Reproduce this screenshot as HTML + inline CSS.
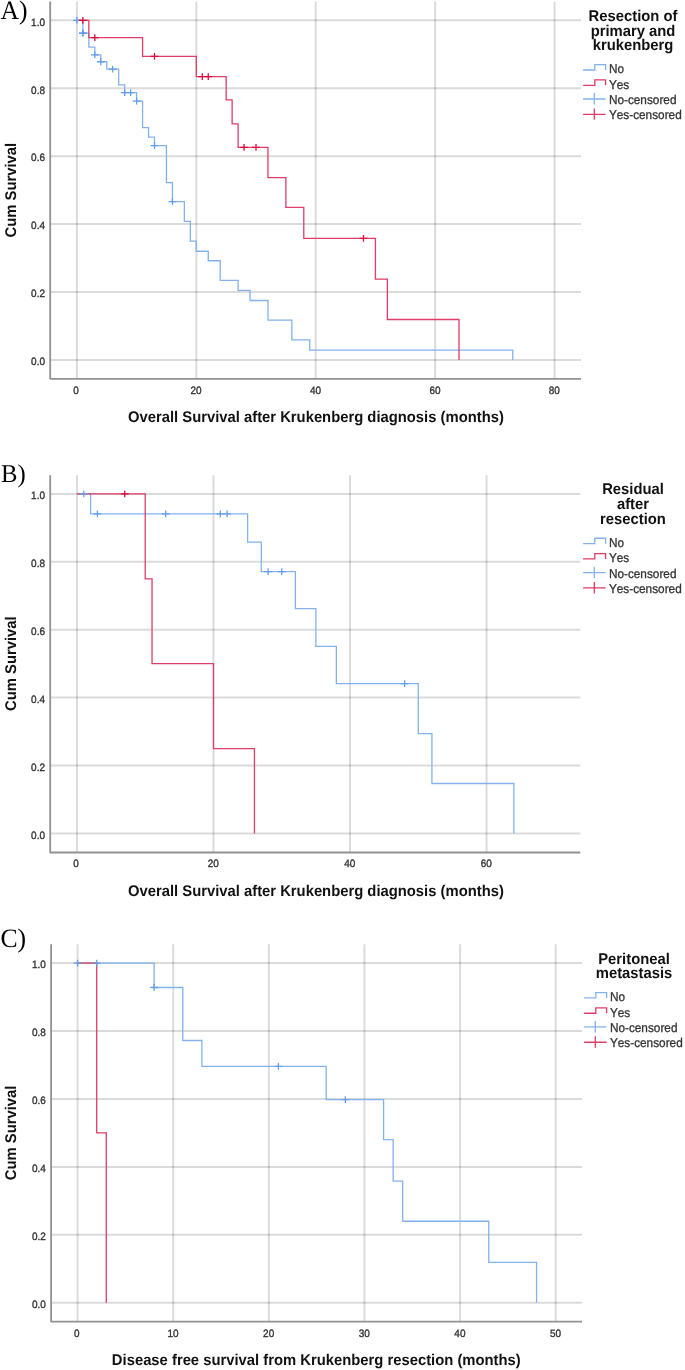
<!DOCTYPE html>
<html><head><meta charset="utf-8"><style>
html,body{margin:0;padding:0;background:#fff;}
body{width:685px;height:1370px;overflow:hidden;}
svg{display:block;will-change:transform;}
text{text-rendering:geometricPrecision;font-kerning:none;}
.tk{font-family:"Liberation Sans",sans-serif;font-size:10.7px;fill:#333333;stroke:#333333;stroke-width:0.35px;}
.ttl{font-family:"Liberation Sans",sans-serif;font-size:15.5px;font-weight:bold;fill:#111111;}
.ytl{font-family:"Liberation Sans",sans-serif;font-size:15.5px;font-weight:bold;fill:#111111;}
.lg{font-family:"Liberation Sans",sans-serif;font-size:15.5px;font-weight:bold;fill:#111111;}
.li{font-family:"Liberation Sans",sans-serif;font-size:12.7px;fill:#333333;stroke:#333333;stroke-width:0.3px;}
.lt{font-family:"Liberation Serif",serif;font-size:26.6px;fill:#000;}
</style></head><body>
<svg width="685" height="1370" viewBox="0 0 685 1370">
<rect width="685" height="1370" fill="#fff"/>
<g>
<line x1="50.20" y1="20.30" x2="581.00" y2="20.30" stroke="#000" stroke-width="2.0" stroke-opacity="0.14"/>
<line x1="50.20" y1="88.23" x2="581.00" y2="88.23" stroke="#000" stroke-width="2.0" stroke-opacity="0.14"/>
<line x1="50.20" y1="156.16" x2="581.00" y2="156.16" stroke="#000" stroke-width="2.0" stroke-opacity="0.14"/>
<line x1="50.20" y1="224.08" x2="581.00" y2="224.08" stroke="#000" stroke-width="2.0" stroke-opacity="0.14"/>
<line x1="50.20" y1="292.01" x2="581.00" y2="292.01" stroke="#000" stroke-width="2.0" stroke-opacity="0.14"/>
<line x1="50.20" y1="359.94" x2="581.00" y2="359.94" stroke="#000" stroke-width="2.0" stroke-opacity="0.14"/>
<line x1="76.90" y1="1.50" x2="76.90" y2="378.85" stroke="#000" stroke-width="2.0" stroke-opacity="0.14"/>
<line x1="196.31" y1="1.50" x2="196.31" y2="378.85" stroke="#000" stroke-width="2.0" stroke-opacity="0.14"/>
<line x1="315.72" y1="1.50" x2="315.72" y2="378.85" stroke="#000" stroke-width="2.0" stroke-opacity="0.14"/>
<line x1="435.13" y1="1.50" x2="435.13" y2="378.85" stroke="#000" stroke-width="2.0" stroke-opacity="0.14"/>
<line x1="554.54" y1="1.50" x2="554.54" y2="378.85" stroke="#000" stroke-width="2.0" stroke-opacity="0.14"/>
<path d="M50.20,1.50V378.85H581.00" fill="none" stroke="#929292" stroke-width="1.8" stroke-linejoin="round"/>
<text transform="translate(45.00,25.60) scale(0.935,1)" class="tk" text-anchor="end">1.0</text>
<text transform="translate(45.00,93.53) scale(0.935,1)" class="tk" text-anchor="end">0.8</text>
<text transform="translate(45.00,161.46) scale(0.935,1)" class="tk" text-anchor="end">0.6</text>
<text transform="translate(45.00,229.38) scale(0.935,1)" class="tk" text-anchor="end">0.4</text>
<text transform="translate(45.00,297.31) scale(0.935,1)" class="tk" text-anchor="end">0.2</text>
<text transform="translate(45.00,365.24) scale(0.935,1)" class="tk" text-anchor="end">0.0</text>
<text transform="translate(76.10,393.85) scale(0.935,1)" class="tk" text-anchor="middle">0</text>
<text transform="translate(196.11,393.85) scale(0.935,1)" class="tk" text-anchor="middle">20</text>
<text transform="translate(315.52,393.85) scale(0.935,1)" class="tk" text-anchor="middle">40</text>
<text transform="translate(434.93,393.85) scale(0.935,1)" class="tk" text-anchor="middle">60</text>
<text transform="translate(554.34,393.85) scale(0.935,1)" class="tk" text-anchor="middle">80</text>
<text transform="translate(315.90,422.30) scale(0.955,1)" class="ttl" text-anchor="middle">Overall Survival after Krukenberg diagnosis (months)</text>
<text transform="translate(15.80,190.12) rotate(-90) scale(0.955,1)" class="ytl" text-anchor="middle">Cum Survival</text>
<path d="M76.90,20.30H82.87V33.21H88.84V47.13H94.81V54.94H100.78V61.74H106.75V69.21H118.69V84.83H124.66V92.64H136.61V101.13H142.58V127.63H148.55V137.14H154.52V145.63H166.46V182.65H172.43V201.67H184.37V221.37H190.34V241.07H196.31V251.26H208.25V260.77H220.19V280.46H238.10V290.31H250.04V300.50H267.96V320.20H291.84V339.90H309.75V350.09H512.75V359.94" fill="none" stroke="#83b2ea" stroke-width="1.3"/>
<path d="M76.90,20.30H88.84V37.62H142.58V56.30H196.31V76.68H226.16V99.78H232.13V123.89H238.10V147.33H267.96V177.55H285.87V207.44H303.78V238.35H375.43V279.11H387.37V319.52H459.01V359.94" fill="none" stroke="#df3d67" stroke-width="1.3"/>
<path d="M73.00,20.30H80.80M76.90,16.90V23.70M78.97,33.21H86.77M82.87,29.81V36.61M90.91,54.94H98.71M94.81,51.54V58.34M96.88,61.74H104.68M100.78,58.34V65.14M108.82,69.21H116.62M112.72,65.81V72.61M120.76,92.64H128.56M124.66,89.24V96.04M126.73,92.64H134.53M130.63,89.24V96.04M132.71,101.13H140.51M136.61,97.73V104.53M150.62,145.63H158.42M154.52,142.23V149.03M168.53,201.67H176.33M172.43,198.27V205.07" fill="none" stroke="#649fe5" stroke-width="1.3"/>
<path d="M78.97,33.21H86.77M82.87,29.81V36.61" fill="none" stroke="#5c9ae4" stroke-width="1.3"/>
<path d="M78.97,20.30H86.77M82.87,16.90V23.70M90.91,37.62H98.71M94.81,34.22V41.02M150.62,56.30H158.42M154.52,52.90V59.70M198.38,76.68H206.18M202.28,73.28V80.08M204.35,76.68H212.15M208.25,73.28V80.08M240.17,147.33H247.97M244.07,143.93V150.73M252.11,147.33H259.91M256.01,143.93V150.73M359.58,238.35H367.38M363.48,234.95V241.75" fill="none" stroke="#d70d41" stroke-width="1.3"/>
<text transform="translate(0.50,18.60) scale(0.965,1)" class="lt">A)</text>
<text transform="translate(633.00,20.80) scale(0.955,1)" class="lg" text-anchor="middle">Resection of</text>
<text transform="translate(633.00,35.60) scale(0.955,1)" class="lg" text-anchor="middle">primary and</text>
<text transform="translate(633.00,50.40) scale(0.955,1)" class="lg" text-anchor="middle">krukenberg</text>
<path d="M583.10,70.00H594.80V64.60H605.60V70.00" fill="none" stroke="#83b2ea" stroke-width="1.3"/>
<text transform="translate(608.90,73.30) scale(0.93,1)" class="li">No</text>
<path d="M583.10,85.30H594.80V79.90H605.60V85.30" fill="none" stroke="#df3d67" stroke-width="1.3"/>
<text transform="translate(608.90,88.60) scale(0.93,1)" class="li">Yes</text>
<path d="M583.10,99.00H605.60M594.30,93.10V104.50" fill="none" stroke="#83b2ea" stroke-width="1.3"/>
<text transform="translate(608.90,103.90) scale(0.93,1)" class="li">No-censored</text>
<path d="M583.10,114.30H605.60M594.30,108.40V119.80" fill="none" stroke="#df3d67" stroke-width="1.3"/>
<text transform="translate(608.90,119.20) scale(0.93,1)" class="li">Yes-censored</text>
<line x1="50.20" y1="493.94" x2="580.30" y2="493.94" stroke="#000" stroke-width="2.0" stroke-opacity="0.14"/>
<line x1="50.20" y1="561.83" x2="580.30" y2="561.83" stroke="#000" stroke-width="2.0" stroke-opacity="0.14"/>
<line x1="50.20" y1="629.72" x2="580.30" y2="629.72" stroke="#000" stroke-width="2.0" stroke-opacity="0.14"/>
<line x1="50.20" y1="697.62" x2="580.30" y2="697.62" stroke="#000" stroke-width="2.0" stroke-opacity="0.14"/>
<line x1="50.20" y1="765.51" x2="580.30" y2="765.51" stroke="#000" stroke-width="2.0" stroke-opacity="0.14"/>
<line x1="50.20" y1="833.40" x2="580.30" y2="833.40" stroke="#000" stroke-width="2.0" stroke-opacity="0.14"/>
<line x1="76.95" y1="475.14" x2="76.95" y2="852.49" stroke="#000" stroke-width="2.0" stroke-opacity="0.14"/>
<line x1="213.48" y1="475.14" x2="213.48" y2="852.49" stroke="#000" stroke-width="2.0" stroke-opacity="0.14"/>
<line x1="350.01" y1="475.14" x2="350.01" y2="852.49" stroke="#000" stroke-width="2.0" stroke-opacity="0.14"/>
<line x1="486.54" y1="475.14" x2="486.54" y2="852.49" stroke="#000" stroke-width="2.0" stroke-opacity="0.14"/>
<path d="M50.20,475.14V852.49H580.30" fill="none" stroke="#929292" stroke-width="1.8" stroke-linejoin="round"/>
<text transform="translate(45.00,499.24) scale(0.935,1)" class="tk" text-anchor="end">1.0</text>
<text transform="translate(45.00,567.13) scale(0.935,1)" class="tk" text-anchor="end">0.8</text>
<text transform="translate(45.00,635.02) scale(0.935,1)" class="tk" text-anchor="end">0.6</text>
<text transform="translate(45.00,702.92) scale(0.935,1)" class="tk" text-anchor="end">0.4</text>
<text transform="translate(45.00,770.81) scale(0.935,1)" class="tk" text-anchor="end">0.2</text>
<text transform="translate(45.00,838.70) scale(0.935,1)" class="tk" text-anchor="end">0.0</text>
<text transform="translate(76.15,867.49) scale(0.935,1)" class="tk" text-anchor="middle">0</text>
<text transform="translate(213.28,867.49) scale(0.935,1)" class="tk" text-anchor="middle">20</text>
<text transform="translate(349.81,867.49) scale(0.935,1)" class="tk" text-anchor="middle">40</text>
<text transform="translate(486.34,867.49) scale(0.935,1)" class="tk" text-anchor="middle">60</text>
<text transform="translate(315.90,895.94) scale(0.955,1)" class="ttl" text-anchor="middle">Overall Survival after Krukenberg diagnosis (months)</text>
<text transform="translate(15.80,663.67) rotate(-90) scale(0.955,1)" class="ytl" text-anchor="middle">Cum Survival</text>
<path d="M76.95,493.94H90.60V513.97H247.61V542.14H261.27V571.68H295.40V608.68H315.88V646.36H336.36V683.70H418.27V733.60H431.93V783.50H513.85V833.40" fill="none" stroke="#83b2ea" stroke-width="1.3"/>
<path d="M76.95,493.94H145.22V578.81H152.04V663.67H213.48V748.53H254.44V833.40" fill="none" stroke="#df3d67" stroke-width="1.3"/>
<path d="M79.88,493.94H87.68M83.78,490.54V497.34M93.53,513.97H101.33M97.43,510.57V517.37M161.79,513.97H169.59M165.69,510.57V517.37M216.41,513.97H224.21M220.31,510.57V517.37M223.23,513.97H231.03M227.13,510.57V517.37M264.19,571.68H271.99M268.09,568.28V575.08M277.85,571.68H285.64M281.75,568.28V575.08M400.72,683.70H408.52M404.62,680.30V687.10" fill="none" stroke="#649fe5" stroke-width="1.3"/>
<path d="M120.84,493.94H128.64M124.74,490.54V497.34" fill="none" stroke="#d70d41" stroke-width="1.3"/>
<text transform="translate(1.10,481.90) scale(0.965,1)" class="lt" style="font-size:25.6px">B)</text>
<text transform="translate(633.00,494.44) scale(0.955,1)" class="lg" text-anchor="middle">Residual</text>
<text transform="translate(633.00,509.24) scale(0.955,1)" class="lg" text-anchor="middle">after</text>
<text transform="translate(633.00,524.04) scale(0.955,1)" class="lg" text-anchor="middle">resection</text>
<path d="M583.10,543.64H594.80V538.24H605.60V543.64" fill="none" stroke="#83b2ea" stroke-width="1.3"/>
<text transform="translate(608.90,546.94) scale(0.93,1)" class="li">No</text>
<path d="M583.10,558.94H594.80V553.54H605.60V558.94" fill="none" stroke="#df3d67" stroke-width="1.3"/>
<text transform="translate(608.90,562.24) scale(0.93,1)" class="li">Yes</text>
<path d="M583.10,572.64H605.60M594.30,566.74V578.14" fill="none" stroke="#83b2ea" stroke-width="1.3"/>
<text transform="translate(608.90,577.54) scale(0.93,1)" class="li">No-censored</text>
<path d="M583.10,587.94H605.60M594.30,582.04V593.44" fill="none" stroke="#df3d67" stroke-width="1.3"/>
<text transform="translate(608.90,592.84) scale(0.93,1)" class="li">Yes-censored</text>
<line x1="51.10" y1="963.06" x2="582.00" y2="963.06" stroke="#000" stroke-width="2.0" stroke-opacity="0.14"/>
<line x1="51.10" y1="1031.00" x2="582.00" y2="1031.00" stroke="#000" stroke-width="2.0" stroke-opacity="0.14"/>
<line x1="51.10" y1="1098.94" x2="582.00" y2="1098.94" stroke="#000" stroke-width="2.0" stroke-opacity="0.14"/>
<line x1="51.10" y1="1166.88" x2="582.00" y2="1166.88" stroke="#000" stroke-width="2.0" stroke-opacity="0.14"/>
<line x1="51.10" y1="1234.82" x2="582.00" y2="1234.82" stroke="#000" stroke-width="2.0" stroke-opacity="0.14"/>
<line x1="51.10" y1="1302.76" x2="582.00" y2="1302.76" stroke="#000" stroke-width="2.0" stroke-opacity="0.14"/>
<line x1="77.60" y1="944.26" x2="77.60" y2="1321.61" stroke="#000" stroke-width="2.0" stroke-opacity="0.14"/>
<line x1="173.22" y1="944.26" x2="173.22" y2="1321.61" stroke="#000" stroke-width="2.0" stroke-opacity="0.14"/>
<line x1="268.84" y1="944.26" x2="268.84" y2="1321.61" stroke="#000" stroke-width="2.0" stroke-opacity="0.14"/>
<line x1="364.46" y1="944.26" x2="364.46" y2="1321.61" stroke="#000" stroke-width="2.0" stroke-opacity="0.14"/>
<line x1="460.08" y1="944.26" x2="460.08" y2="1321.61" stroke="#000" stroke-width="2.0" stroke-opacity="0.14"/>
<line x1="555.70" y1="944.26" x2="555.70" y2="1321.61" stroke="#000" stroke-width="2.0" stroke-opacity="0.14"/>
<path d="M51.10,944.26V1321.61H582.00" fill="none" stroke="#929292" stroke-width="1.8" stroke-linejoin="round"/>
<text transform="translate(45.90,968.36) scale(0.935,1)" class="tk" text-anchor="end">1.0</text>
<text transform="translate(45.90,1036.30) scale(0.935,1)" class="tk" text-anchor="end">0.8</text>
<text transform="translate(45.90,1104.24) scale(0.935,1)" class="tk" text-anchor="end">0.6</text>
<text transform="translate(45.90,1172.18) scale(0.935,1)" class="tk" text-anchor="end">0.4</text>
<text transform="translate(45.90,1240.12) scale(0.935,1)" class="tk" text-anchor="end">0.2</text>
<text transform="translate(45.90,1308.06) scale(0.935,1)" class="tk" text-anchor="end">0.0</text>
<text transform="translate(76.80,1336.61) scale(0.935,1)" class="tk" text-anchor="middle">0</text>
<text transform="translate(173.02,1336.61) scale(0.935,1)" class="tk" text-anchor="middle">10</text>
<text transform="translate(268.64,1336.61) scale(0.935,1)" class="tk" text-anchor="middle">20</text>
<text transform="translate(364.26,1336.61) scale(0.935,1)" class="tk" text-anchor="middle">30</text>
<text transform="translate(459.88,1336.61) scale(0.935,1)" class="tk" text-anchor="middle">40</text>
<text transform="translate(555.50,1336.61) scale(0.935,1)" class="tk" text-anchor="middle">50</text>
<text transform="translate(316.30,1365.06) scale(0.955,1)" class="ttl" text-anchor="middle">Disease free survival from Krukenberg resection (months)</text>
<text transform="translate(15.80,1132.91) rotate(-90) scale(0.955,1)" class="ytl" text-anchor="middle">Cum Survival</text>
<path d="M77.60,963.06H154.10V987.52H182.78V1040.51H201.91V1066.33H326.21V1099.62H383.58V1139.70H393.15V1181.15H402.71V1221.23H488.77V1262.34H536.58V1302.76" fill="none" stroke="#83b2ea" stroke-width="1.3"/>
<path d="M77.60,963.06H96.72V1132.91H106.29V1302.76" fill="none" stroke="#df3d67" stroke-width="1.3"/>
<path d="M73.70,963.06H81.50M77.60,959.66V966.46M92.82,963.06H100.62M96.72,959.66V966.46M150.20,987.52H158.00M154.10,984.12V990.92M274.50,1066.33H282.30M278.40,1062.93V1069.73M341.44,1099.62H349.24M345.34,1096.22V1103.02" fill="none" stroke="#649fe5" stroke-width="1.3"/>
<text transform="translate(0.50,946.80) scale(0.965,1)" class="lt">C)</text>
<text transform="translate(634.00,963.56) scale(0.955,1)" class="lg" text-anchor="middle">Peritoneal</text>
<text transform="translate(634.00,978.36) scale(0.955,1)" class="lg" text-anchor="middle">metastasis</text>
<path d="M584.10,997.96H595.80V992.56H606.60V997.96" fill="none" stroke="#83b2ea" stroke-width="1.3"/>
<text transform="translate(609.90,1001.26) scale(0.93,1)" class="li">No</text>
<path d="M584.10,1013.26H595.80V1007.86H606.60V1013.26" fill="none" stroke="#df3d67" stroke-width="1.3"/>
<text transform="translate(609.90,1016.56) scale(0.93,1)" class="li">Yes</text>
<path d="M584.10,1026.96H606.60M595.30,1021.06V1032.46" fill="none" stroke="#83b2ea" stroke-width="1.3"/>
<text transform="translate(609.90,1031.86) scale(0.93,1)" class="li">No-censored</text>
<path d="M584.10,1042.26H606.60M595.30,1036.36V1047.76" fill="none" stroke="#df3d67" stroke-width="1.3"/>
<text transform="translate(609.90,1047.16) scale(0.93,1)" class="li">Yes-censored</text>
</g>
</svg>
</body></html>
